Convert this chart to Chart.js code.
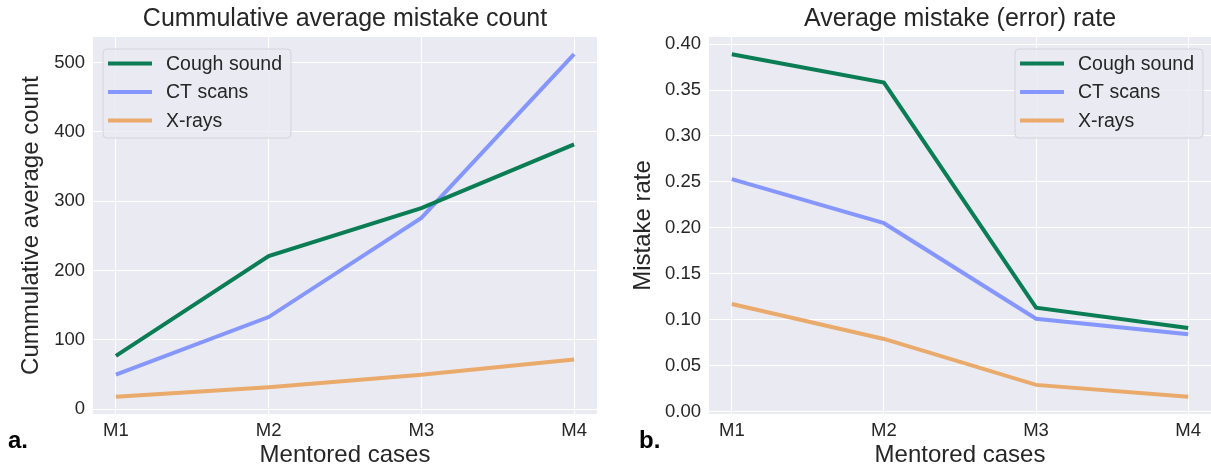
<!DOCTYPE html>
<html lang="en">
    <head>
        <meta charset="UTF-8" />
        <title>Mistake count and rate</title>
        <script src="https://cdn.jsdelivr.net/npm/chart.js@4.4.1/dist/chart.umd.min.js"></script>
        <style>
            body { margin: 0; background: #fff; }
            .panel { position: absolute; top: 0; height: 467px; }
            .tag { position: absolute; top: 426px; font: bold 24px "Liberation Sans", Arial, sans-serif; color: #000; }
        </style>
    </head>
    <body>
        <div class="panel" style="left:0;width:610px"><canvas id="chart"></canvas></div>
        <div class="panel" style="left:610px;width:601px"><canvas id="chart2"></canvas></div>
        <div class="tag" style="left:8px">a.</div>
        <div class="tag" style="left:639px">b.</div>
        <script>
            const cases = ['M1', 'M2', 'M3', 'M4'];
            const seriesNames = ['Cough sound', 'CT scans', 'X-rays'];
            const colors = ['#0b7d55', '#8596ff', '#e9aa6b'];

            // cummulative average mistake count
            const coughCount = [77, 221, 290, 382];
            const ctCount = [50, 133, 276, 512];
            const xrayCount = [18, 32, 50, 72];

            // average mistake (error) rate
            const coughRate = [0.389, 0.358, 0.113, 0.091];
            const ctRate = [0.253, 0.205, 0.101, 0.084];
            const xrayRate = [0.117, 0.079, 0.029, 0.016];

            const countTicks = [0, 100, 200, 300, 400, 500];
            const rateTicks = [0, 0.05, 0.10, 0.15, 0.20, 0.25, 0.30, 0.35, 0.40];

            const FONT = "'Liberation Sans', Arial, sans-serif";
            const TEXT = '#262626';

            // grey panel behind the plot
            const background = {
                id: 'background',
                beforeDraw(chart) {
                    const a = chart.chartArea, ctx = chart.ctx;
                    ctx.save();
                    ctx.fillStyle = '#eaeaf2';
                    ctx.fillRect(a.left, a.top, a.right - a.left, a.bottom - a.top);
                    ctx.restore();
                }
            };

            // framed legend inside the plot, like matplotlib
            const boxLegend = {
                id: 'boxLegend',
                afterDraw(chart, args, opts) {
                    const ctx = chart.ctx, a = chart.chartArea;
                    const sets = chart.data.datasets;
                    ctx.save();
                    ctx.font = '19.5px ' + FONT;
                    let tw = 0;
                    sets.forEach(d => { tw = Math.max(tw, ctx.measureText(d.label).width); });
                    const w = 63 + tw + 9, h = 89;
                    const x = opts.side === 'right' ? a.right - 8 - w : a.left + 10;
                    const y = a.top + 12;
                    ctx.beginPath();
                    ctx.roundRect(x, y, w, h, 4);
                    ctx.fillStyle = 'rgba(234,234,242,0.8)';
                    ctx.fill();
                    ctx.strokeStyle = '#d4d4d8';
                    ctx.lineWidth = 1;
                    ctx.stroke();
                    sets.forEach((d, i) => {
                        const cy = y + 14.5 + i * 28.5;
                        ctx.beginPath();
                        ctx.moveTo(x + 5, cy);
                        ctx.lineTo(x + 49, cy);
                        ctx.strokeStyle = d.borderColor;
                        ctx.lineWidth = 4;
                        ctx.stroke();
                        ctx.fillStyle = TEXT;
                        ctx.textBaseline = 'middle';
                        ctx.fillText(d.label, x + 63, cy + 1);
                    });
                    ctx.restore();
                }
            };

            function toPoints(vals) {
                return vals.map((v, i) => ({x: i, y: v}));
            }

            function makeChart(id, opts) {
                const ctx = document.getElementById(id).getContext('2d');
                return new Chart(ctx, {
                    type: 'line',
                    data: {
                        datasets: opts.series.map((s, i) => ({
                            label: seriesNames[i],
                            data: toPoints(s),
                            borderColor: colors[i],
                            backgroundColor: colors[i],
                            borderWidth: 4,
                            pointRadius: 0,
                            tension: 0,
                            fill: false
                        }))
                    },
                    options: {
                        responsive: true,
                        maintainAspectRatio: false,
                        animation: false,
                        layout: { padding: { right: opts.padRight, left: 0, top: 0, bottom: 0 } },
                        plugins: {
                            legend: { display: false },
                            tooltip: { enabled: false },
                            title: {
                                display: true,
                                text: opts.title,
                                fullSize: false,
                                color: TEXT,
                                font: { family: FONT, size: 25, weight: 'normal', lineHeight: 1.2 },
                                padding: { top: 4, bottom: 3 }
                            },
                            boxLegend: { side: opts.legendSide }
                        },
                        scales: {
                            x: {
                                type: 'linear',
                                min: -0.15,
                                max: 3.15,
                                afterBuildTicks: sc => { sc.ticks = cases.map((c, i) => ({value: i})); },
                                afterFit: sc => { sc.height = 53; },
                                ticks: {
                                    callback: v => cases[v],
                                    color: TEXT,
                                    padding: 6,
                                    maxRotation: 0,
                                    font: { family: FONT, size: 18.5 }
                                },
                                grid: { color: '#ffffff', lineWidth: 1, drawTicks: false },
                                border: { display: false },
                                title: {
                                    display: true,
                                    text: 'Mentored cases',
                                    color: TEXT,
                                    font: { family: FONT, size: 24 },
                                    padding: { top: 0, bottom: -3 }
                                }
                            },
                            y: {
                                min: opts.yMin,
                                max: opts.yMax,
                                afterBuildTicks: sc => { sc.ticks = opts.ticks.map(v => ({value: v})); },
                                afterFit: sc => { sc.width = opts.yWidth; },
                                ticks: {
                                    callback: opts.fmt,
                                    color: TEXT,
                                    padding: 8,
                                    font: { family: FONT, size: 18.5 }
                                },
                                grid: { color: '#ffffff', lineWidth: 1, drawTicks: false },
                                border: { display: false },
                                title: {
                                    display: true,
                                    text: opts.yTitle,
                                    color: TEXT,
                                    font: { family: FONT, size: 24 },
                                    padding: { top: opts.yTitlePad, bottom: 0 }
                                }
                            }
                        }
                    },
                    plugins: [background, boxLegend]
                });
            }

            makeChart('chart', {
                title: 'Cummulative average mistake count',
                yTitle: 'Cummulative average count',
                series: [coughCount, ctCount, xrayCount],
                ticks: countTicks,
                fmt: v => String(v),
                yMin: -6.7,
                yMax: 536.7,
                yWidth: 93,
                yTitlePad: 16.5,
                padRight: 13,
                legendSide: 'left'
            });

            makeChart('chart2', {
                title: 'Average mistake (error) rate',
                yTitle: 'Mistake rate',
                series: [coughRate, ctRate, xrayRate],
                ticks: rateTicks,
                fmt: v => v.toFixed(2),
                yMin: -0.0027,
                yMax: 0.4077,
                yWidth: 99,
                yTitlePad: 18.5,
                padRight: 0,
                legendSide: 'right'
            });
        </script>
    </body>
</html>
